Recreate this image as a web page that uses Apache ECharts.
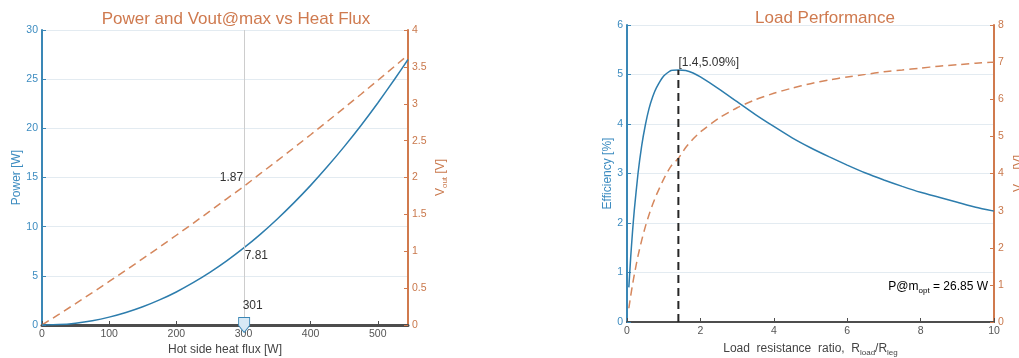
<!DOCTYPE html>
<html>
<head>
<meta charset="utf-8">
<script src="https://cdn.jsdelivr.net/npm/echarts@6/dist/echarts.min.js"></script>
<style>html,body{margin:0;padding:0;background:#fff;}#c{width:1019px;height:358px;}</style>
</head>
<body>
<div id="c"></div>
<script>
// ---------- Left chart data: Power and Vout@max vs Heat Flux ----------
const heatFlux = [0, 25, 50, 75, 100, 125, 150, 175, 200, 225, 250, 275, 300, 325, 350, 375, 400, 425, 450, 475, 500, 525, 545];
const powerW   = [0, 0.04, 0.19, 0.44, 0.80, 1.27, 1.85, 2.55, 3.36, 4.30, 5.35, 6.52, 7.81, 9.22, 10.76, 12.42, 14.20, 16.11, 18.14, 20.29, 22.58, 24.99, 27.00];
const voutHeat = [0, 0.144, 0.290, 0.439, 0.590, 0.743, 0.899, 1.056, 1.217, 1.379, 1.544, 1.711, 1.875, 2.052, 2.225, 2.402, 2.580, 2.761, 2.944, 3.129, 3.317, 3.507, 3.660];
const cursorHeat = 301;
const cursorPower = 7.81;
const cursorVout = 1.87;

// ---------- Right chart data: Load Performance ----------
const loadRatio  = [0.05, 0.1, 0.15, 0.2, 0.3, 0.4, 0.5, 0.6, 0.7, 0.8, 1.0, 1.2, 1.4, 1.6, 1.8, 2.0, 2.5, 3.0, 3.5, 4.0, 4.5, 5.0, 5.5, 6.0, 6.5, 7.0, 7.5, 8.0, 8.5, 9.0, 9.5, 10];
const efficiency = [0.70, 1.30, 1.82, 2.27, 3.00, 3.56, 3.98, 4.31, 4.55, 4.73, 4.97, 5.08, 5.09, 5.08, 5.03, 4.95, 4.71, 4.45, 4.19, 3.95, 3.72, 3.52, 3.34, 3.17, 3.01, 2.87, 2.74, 2.62, 2.52, 2.42, 2.32, 2.24];
const voutLoad   = [0.37, 0.70, 1.00, 1.28, 1.78, 2.20, 2.57, 2.89, 3.17, 3.42, 3.85, 4.20, 4.41, 4.70, 4.93, 5.12, 5.49, 5.77, 5.99, 6.16, 6.30, 6.42, 6.52, 6.60, 6.67, 6.74, 6.79, 6.84, 6.89, 6.93, 6.97, 7.00];
const peakRatio = 1.4;
const peakEff = 5.09;
const pOptW = 26.85;

// ---------- Axis ranges / ticks ----------
const leftX  = {min: 0, max: 545, interval: 100};
const leftY1 = {min: 0, max: 30, interval: 5};
const leftY2 = {min: 0, max: 4, interval: 0.5};
const rightX  = {min: 0, max: 10, interval: 2};
const rightY1 = {min: 0, max: 6, interval: 1};
const rightY2 = {min: 0, max: 8, interval: 1};

const FONT = '"Liberation Sans", Arial, Helvetica, sans-serif';
const BLUE = '#2d7dad', ORANGE = '#d5875d';
const BLUE_TXT = '#3d8cc0', ORANGE_TXT = '#c9784c', AX_GRAY = '#4d4d4d', TXT = '#333';
const GRID_LINE = '#e3ebf1';

const chart = echarts.init(document.getElementById('c'), null, {renderer: 'canvas'});

function zip(xs, ys) { return xs.map((x, i) => [x, ys[i]]); }

const subRich = (color) => ({
  t: {fontSize: 12, color: color, lineHeight: 16, fontFamily: FONT},
  s: {fontSize: 8, color: color, lineHeight: 8, verticalAlign: 'bottom', fontFamily: FONT}
});

function xAxisCfg(grid, r, name, lineWidth, gap, showMax) {
  return {
    gridIndex: grid, type: 'value', min: r.min, max: r.max, interval: r.interval,
    name: name, nameLocation: 'middle', nameGap: gap, nameMoveOverlap: false,
    nameTextStyle: {color: '#444', fontSize: 12, fontFamily: FONT, rich: subRich('#444')},
    axisLine: {show: true, onZero: false, lineStyle: {color: AX_GRAY, width: lineWidth}},
    axisTick: {show: true, inside: true, length: 4, lineStyle: {color: AX_GRAY, width: 1}},
    axisLabel: {color: '#555', fontSize: 10.5, margin: 4, showMaxLabel: showMax, fontFamily: FONT},
    splitLine: {show: false}
  };
}
function yAxisCfg(grid, r, name, pos, color, txtColor, gap, split) {
  return {
    gridIndex: grid, type: 'value', position: pos, min: r.min, max: r.max, interval: r.interval,
    name: name, nameLocation: 'middle', nameGap: gap, nameRotate: 90, nameMoveOverlap: false,
    nameTextStyle: {color: txtColor, fontSize: 12, fontFamily: FONT, rich: subRich(txtColor)},
    axisLine: {show: true, onZero: false, lineStyle: {color: color, width: 2}},
    axisTick: {show: true, inside: true, length: 4, lineStyle: {color: color, width: 1}},
    axisLabel: {color: txtColor, fontSize: 10.5, margin: 4, fontFamily: FONT},
    splitLine: {show: split, lineStyle: {color: GRID_LINE, width: 1}}
  };
}

const option = {
  animation: false,
  backgroundColor: '#fff',
  textStyle: {fontFamily: FONT},
  grid: [
    {left: 42, top: 30, width: 366, height: 295, containLabel: false, outerBoundsMode: 'none'},
    {left: 627, top: 25, width: 367, height: 297, containLabel: false, outerBoundsMode: 'none'}
  ],
  xAxis: [
    xAxisCfg(0, leftX, 'Hot side heat flux [W]', 3, 19, false),
    xAxisCfg(1, rightX, '{t|Load  resistance  ratio,  R}{s|load}{t|/R}{s|leg}', 2, 19, true)
  ],
  yAxis: [
    yAxisCfg(0, leftY1, 'Power [W]', 'left', '#3a87b6', BLUE_TXT, 19, true),
    yAxisCfg(0, leftY2, '{t|V}{s|out}{t| [V]}', 'right', '#d07a4e', ORANGE_TXT, 25, false),
    yAxisCfg(1, rightY1, 'Efficiency [%]', 'left', '#3a87b6', BLUE_TXT, 13, true),
    yAxisCfg(1, rightY2, '{t|V}{s|out}{t| [V]}', 'right', '#d07a4e', ORANGE_TXT, 17, false)
  ],
  series: [
    {
      type: 'line', xAxisIndex: 0, yAxisIndex: 0, data: zip(heatFlux, powerW),
      showSymbol: false, smooth: 0.2, lineStyle: {color: BLUE, width: 1.5}, z: 3,
      markLine: {
        silent: true, symbol: ['none', 'none'], label: {show: false},
        lineStyle: {color: '#cdcdcd', type: 'solid', width: 1},
        data: [{xAxis: cursorHeat}]
      },
      markPoint: {
        silent: true,
        data: [
          {coord: [cursorHeat, cursorPower], symbol: 'circle', symbolSize: 0,
           label: {show: true, position: 'right', distance: 5, offset: [-4.5, 7], formatter: cursorPower.toFixed(2), color: TXT, fontSize: 12, fontFamily: FONT}},
          {coord: [cursorHeat, 0], symbol: 'path://M0,0L10,0L10,7L5,13L0,7Z', symbolSize: [11, 15],
           itemStyle: {color: '#d8e9f5', borderColor: '#3a86b5', borderWidth: 1},
           label: {show: false}},
          {coord: [cursorHeat, 0], symbol: 'circle', symbolSize: 0,
           label: {show: true, position: 'right', distance: 0, offset: [-1.5, -19], formatter: String(cursorHeat), color: TXT, fontSize: 12, fontFamily: FONT}}
        ]
      }
    },
    {
      type: 'line', xAxisIndex: 0, yAxisIndex: 1, data: zip(heatFlux, voutHeat),
      showSymbol: false, lineStyle: {color: ORANGE, width: 1.5, type: [8, 5]}, z: 2,
      markPoint: {
        silent: true,
        data: [
          {coord: [cursorHeat, cursorVout], symbol: 'circle', symbolSize: 0,
           label: {show: true, position: 'left', distance: 5, offset: [4, -9], formatter: cursorVout.toFixed(2), color: TXT, fontSize: 12, fontFamily: FONT}}
        ]
      }
    },
    {
      type: 'line', xAxisIndex: 1, yAxisIndex: 2, data: zip(loadRatio, efficiency),
      showSymbol: false, smooth: 0.2, lineStyle: {color: BLUE, width: 1.5}, z: 3,
      markPoint: {
        silent: true,
        data: [
          {coord: [peakRatio, peakEff], symbol: 'circle', symbolSize: 0,
           label: {show: true, position: 'right', distance: 0, offset: [0, -7], formatter: '[' + peakRatio + ',' + peakEff.toFixed(2) + '%]', color: TXT, fontSize: 12, fontFamily: FONT}}
        ]
      }
    },
    {
      type: 'line', xAxisIndex: 1, yAxisIndex: 3, data: zip(loadRatio, voutLoad),
      showSymbol: false, smooth: 0.2, lineStyle: {color: ORANGE, width: 1.5, type: [8, 5]}, z: 2
    },
    {
      type: 'line', xAxisIndex: 1, yAxisIndex: 2, data: [[peakRatio, 0], [peakRatio, peakEff]],
      showSymbol: false, lineStyle: {color: '#262626', width: 2, type: [8, 5]}, z: 4
    }
  ],
  graphic: [
    {type: 'text', silent: true, style: {text: 'Power and Vout@max vs Heat Flux', x: 236, y: 19, align: 'center', verticalAlign: 'middle', textAlign: 'center', textVerticalAlign: 'middle', fill: '#cf7a4f', font: '17px ' + FONT}},
    {type: 'text', silent: true, style: {text: 'Load Performance', x: 825, y: 18, align: 'center', verticalAlign: 'middle', textAlign: 'center', textVerticalAlign: 'middle', fill: '#cf7a4f', font: '17px ' + FONT}},
    {type: 'text', silent: true, z: 10, style: {
      text: '{t|P@m}{s|opt}{t| = ' + pOptW.toFixed(2) + ' W}', rich: subRich(TXT),
      x: 988, y: 287, align: 'right', verticalAlign: 'middle', textAlign: 'right', textVerticalAlign: 'middle'}}
  ]
};
chart.setOption(option);
</script>
</body>
</html>
